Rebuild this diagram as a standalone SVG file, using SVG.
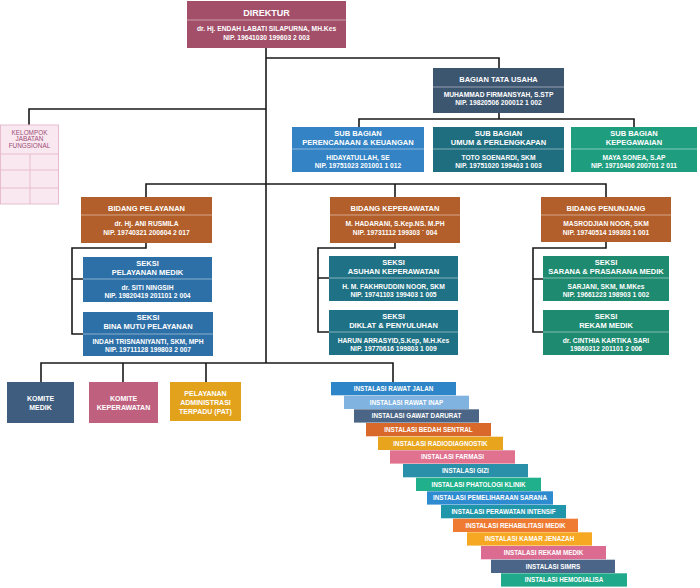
<svg xmlns="http://www.w3.org/2000/svg" width="700" height="588" viewBox="0 0 700 588">
<style>
text{font-family:"Liberation Sans",Arial,sans-serif;font-weight:bold;fill:#ffffff;text-anchor:middle}
.h9{font-size:9px}
.h{font-size:7.5px}
.n{font-size:6.7px}
.k{font-size:7px}
.i{font-size:6.3px}
.kf{font-size:6.4px;font-weight:normal;fill:#9a4d74}
.dv{stroke:#ffffff;stroke-opacity:0.45;stroke-width:1}
.ln{stroke:#1a1a1a;stroke-width:1.6;fill:none}
.kl{stroke:#e6bdd0;stroke-width:1;fill:none}
</style>
<rect width="700" height="588" fill="#ffffff"/>

<g id="connectors" class="ln">
<path d="M266 48V363"/>
<path d="M266 58H499V68"/>
<path d="M499 113V119M359 127V119H634V127"/>
<path d="M266 109H29V125"/>
<path d="M146 197V184H606V197M395 184V197"/>
<path d="M146 243V248H72V334H83M72 279H83"/>
<path d="M395 243V248H318V332H329M318 278H329"/>
<path d="M606 242V248H533V332H543M533 279H543"/>
<path d="M41 382V363H393V382M123 363V382M206 363V382"/>
</g>

<g id="direktur">
<rect x="187" y="1" width="159" height="47" fill="#a34f6a"/>
<line class="dv" x1="187" y1="20" x2="346" y2="20"/>
<text class="h9" x="266.5" y="16">DIREKTUR</text>
<text class="n" x="266.5" y="30.5">dr. Hj. ENDAH LABATI SILAPURNA, MH.Kes</text>
<text class="n" x="266.5" y="39.5">NIP. 19641030 199603 2 003</text>
</g>

<g id="bagian-tata-usaha">
<rect x="433" y="68" width="131" height="45" fill="#3d5670"/>
<line class="dv" x1="433" y1="87" x2="564" y2="87"/>
<text class="h" x="498.5" y="82">BAGIAN TATA USAHA</text>
<text class="n" x="498.5" y="96.5">MUHAMMAD FIRMANSYAH, S.STP</text>
<text class="n" x="498.5" y="104.5">NIP. 19820506 200012 1 002</text>
</g>

<g id="kelompok-jabatan-fungsional">
<rect x="0.5" y="125" width="58" height="79" fill="#fae8f1" stroke="#e6bdd0"/>
<path class="kl" d="M0.5 154H58.5M0.5 170H58.5M0.5 188H58.5M30 154V204"/>
<text class="kf" x="29.5" y="134.5">KELOMPOK</text>
<text class="kf" x="29.5" y="141">JABATAN</text>
<text class="kf" x="29.5" y="147.5">FUNGSIONAL</text>
</g>

<g id="sub-bagian-perencanaan">
<rect x="292" y="127" width="132" height="45" fill="#3383c5"/>
<line class="dv" x1="292" y1="149" x2="424" y2="149"/>
<text class="h" x="358" y="135.5">SUB BAGIAN</text>
<text class="h" x="358" y="144.5">PERENCANAAN &amp; KEUANGAN</text>
<text class="n" x="358" y="159.5">HIDAYATULLAH, SE</text>
<text class="n" x="358" y="167.5">NIP. 19751023 201001 1 012</text>
</g>

<g id="sub-bagian-umum">
<rect x="433" y="127" width="131" height="45" fill="#1f6e80"/>
<line class="dv" x1="433" y1="149" x2="564" y2="149"/>
<text class="h" x="498.5" y="135.5">SUB BAGIAN</text>
<text class="h" x="498.5" y="144.5">UMUM &amp; PERLENGKAPAN</text>
<text class="n" x="498.5" y="159.5">TOTO SOENARDI, SKM</text>
<text class="n" x="498.5" y="167.5">NIP. 19751020 199403 1 003</text>
</g>

<g id="sub-bagian-kepegawaian">
<rect x="571" y="127" width="126" height="45" fill="#1f9e7f"/>
<line class="dv" x1="571" y1="149" x2="697" y2="149"/>
<text class="h" x="634" y="135.5">SUB BAGIAN</text>
<text class="h" x="634" y="144.5">KEPEGAWAIAN</text>
<text class="n" x="634" y="159.5">MAYA SONEA, S.AP</text>
<text class="n" x="634" y="167.5">NIP. 19710406 200701 2 011</text>
</g>

<g id="bidang-pelayanan">
<rect x="81" y="197" width="131" height="46" fill="#b35f2b"/>
<line class="dv" x1="81" y1="215" x2="212" y2="215"/>
<text class="h" x="146.5" y="211">BIDANG PELAYANAN</text>
<text class="n" x="146.5" y="225.5">dr. Hj. ANI RUSMILA</text>
<text class="n" x="146.5" y="234.5">NIP. 19740321 200604 2 017</text>
</g>

<g id="bidang-keperawatan">
<rect x="330" y="197" width="130" height="46" fill="#b35f2b"/>
<line class="dv" x1="330" y1="215" x2="460" y2="215"/>
<text class="h" x="395" y="211">BIDANG KEPERAWATAN</text>
<text class="n" x="395" y="225.5">M. HADARANI, S.Kep.NS. M.PH</text>
<text class="n" x="395" y="234.5">NIP. 19731112 199303 ` 004</text>
</g>

<g id="bidang-penunjang">
<rect x="541" y="197" width="130" height="45" fill="#b35f2b"/>
<line class="dv" x1="541" y1="215" x2="671" y2="215"/>
<text class="h" x="606" y="211">BIDANG PENUNJANG</text>
<text class="n" x="606" y="225.5">MASRODJIAN NOOR, SKM</text>
<text class="n" x="606" y="234.5">NIP. 19740514 199303 1 001</text>
</g>

<g id="seksi-pelayanan-medik">
<rect x="83" y="257" width="129" height="45" fill="#2d70a7"/>
<line class="dv" x1="83" y1="279" x2="212" y2="279"/>
<text class="h" x="147.5" y="265.5">SEKSI</text>
<text class="h" x="147.5" y="274.5">PELAYANAN MEDIK</text>
<text class="n" x="147.5" y="289.5">dr. SITI NINGSIH</text>
<text class="n" x="147.5" y="297.5">NIP. 19820419 201101 2 004</text>
</g>

<g id="seksi-bina-mutu">
<rect x="83" y="312" width="130" height="44" fill="#2d70a7"/>
<line class="dv" x1="83" y1="334" x2="213" y2="334"/>
<text class="h" x="148" y="319.5">SEKSI</text>
<text class="h" x="148" y="329">BINA MUTU PELAYANAN</text>
<text class="n" x="148" y="344">INDAH TRISNANIYANTI, SKM, MPH</text>
<text class="n" x="148" y="352">NIP. 19711128 199803 2 007</text>
</g>

<g id="seksi-asuhan-keperawatan">
<rect x="329" y="256" width="129" height="45" fill="#1f7285"/>
<line class="dv" x1="329" y1="278" x2="458" y2="278"/>
<text class="h" x="393.5" y="264.5">SEKSI</text>
<text class="h" x="393.5" y="273.5">ASUHAN KEPERAWATAN</text>
<text class="n" x="393.5" y="288.5">H. M. FAKHRUDDIN NOOR, SKM</text>
<text class="n" x="393.5" y="296.5">NIP. 19741103 199403 1 005</text>
</g>

<g id="seksi-diklat">
<rect x="329" y="310" width="129" height="45" fill="#1f7285"/>
<line class="dv" x1="329" y1="332" x2="458" y2="332"/>
<text class="h" x="393.5" y="318.5">SEKSI</text>
<text class="h" x="393.5" y="327.5">DIKLAT &amp; PENYULUHAN</text>
<text class="n" x="393.5" y="342.5">HARUN ARRASYID,S.Kep, M.H.Kes</text>
<text class="n" x="393.5" y="350.5">NIP. 19770616 199803 1 009</text>
</g>

<g id="seksi-sarana">
<rect x="543" y="256" width="126" height="45" fill="#1e8a6f"/>
<line class="dv" x1="543" y1="278" x2="669" y2="278"/>
<text class="h" x="606" y="264.5">SEKSI</text>
<text class="h" x="606" y="273.5">SARANA &amp; PRASARANA MEDIK</text>
<text class="n" x="606" y="288.5">SARJANI, SKM, M.MKes</text>
<text class="n" x="606" y="296.5">NIP. 19661223 198903 1 002</text>
</g>

<g id="seksi-rekam-medik">
<rect x="543" y="310" width="126" height="45" fill="#1e8a6f"/>
<line class="dv" x1="543" y1="332" x2="669" y2="332"/>
<text class="h" x="606" y="318.5">SEKSI</text>
<text class="h" x="606" y="327.5">REKAM MEDIK</text>
<text class="n" x="606" y="342.5">dr. CINTHIA KARTIKA SARI</text>
<text class="n" x="606" y="350.5">19860312 201101 2 006</text>
</g>

<g id="komite-medik">
<rect x="7" y="382" width="67" height="41" fill="#3f5d7f"/>
<text class="k" x="40.5" y="400.5">KOMITE</text>
<text class="k" x="40.5" y="409.5">MEDIK</text>
</g>

<g id="komite-keperawatan">
<rect x="89" y="382" width="69" height="41" fill="#c0607f"/>
<text class="k" x="123.5" y="400.5">KOMITE</text>
<text class="k" x="123.5" y="409.5">KEPERAWATAN</text>
</g>

<g id="pelayanan-administrasi-terpadu">
<rect x="170" y="382" width="71" height="39" fill="#e3a21b"/>
<text class="k" x="205.5" y="395.5">PELAYANAN</text>
<text class="k" x="205.5" y="404.5">ADMINISTRASI</text>
<text class="k" x="205.5" y="413.5">TERPADU (PAT)</text>
</g>

<g id="instalasi-rawat-jalan"><rect x="331" y="382" width="125" height="13.3" fill="#2e86c8"/><text class="i" x="393.5" y="391">INSTALASI RAWAT JALAN</text></g>
<g id="instalasi-rawat-inap"><rect x="344" y="395.7" width="125" height="13.3" fill="#80b3e0"/><text class="i" x="406.5" y="404.7">INSTALASI RAWAT INAP</text></g>
<g id="instalasi-gawat-darurat"><rect x="354" y="409.3" width="125" height="13.3" fill="#4a6586"/><text class="i" x="416.5" y="418.3">INSTALASI GAWAT DARURAT</text></g>
<g id="instalasi-bedah-sentral"><rect x="366" y="423" width="125" height="13.3" fill="#d9692b"/><text class="i" x="428.5" y="432">INSTALASI BEDAH SENTRAL</text></g>
<g id="instalasi-radiodiagnostik"><rect x="378" y="436.7" width="125" height="13.3" fill="#e8a41d"/><text class="i" x="440.5" y="445.7">INSTALASI RADIODIAGNOSTIK</text></g>
<g id="instalasi-farmasi"><rect x="390" y="450.3" width="125" height="13.3" fill="#e0718f"/><text class="i" x="452.5" y="459.3">INSTALASI FARMASI</text></g>
<g id="instalasi-gizi"><rect x="403" y="464" width="125" height="13.3" fill="#2a8fa8"/><text class="i" x="465.5" y="473">INSTALASI GIZI</text></g>
<g id="instalasi-phatologi-klinik"><rect x="416" y="477.7" width="125" height="13.3" fill="#20b08b"/><text class="i" x="478.5" y="486.7">INSTALASI PHATOLOGI KLINIK</text></g>
<g id="instalasi-pemeliharaan-sarana"><rect x="427" y="491.3" width="126" height="13.3" fill="#2f8bd0"/><text class="i" x="490" y="500.3">INSTALASI PEMELIHARAAN SARANA</text></g>
<g id="instalasi-perawatan-intensif"><rect x="441" y="505" width="125" height="13.3" fill="#2096ab"/><text class="i" x="503.5" y="514">INSTALASI PERAWATAN INTENSIF</text></g>
<g id="instalasi-rehabilitasi-medik"><rect x="453" y="518.7" width="125" height="13.3" fill="#ef7a31"/><text class="i" x="515.5" y="527.7">INSTALASI REHABILITASI MEDIK</text></g>
<g id="instalasi-kamar-jenazah"><rect x="467" y="532.3" width="125" height="13.3" fill="#f6a822"/><text class="i" x="529.5" y="541.3">INSTALASI KAMAR JENAZAH</text></g>
<g id="instalasi-rekam-medik"><rect x="481" y="546" width="125" height="13.3" fill="#dc6b91"/><text class="i" x="543.5" y="555">INSTALASI REKAM MEDIK</text></g>
<g id="instalasi-simrs"><rect x="491" y="559.7" width="124" height="13.3" fill="#4b6589"/><text class="i" x="553" y="568.7">INSTALASI SIMRS</text></g>
<g id="instalasi-hemodialisa"><rect x="501" y="573.3" width="126" height="13.3" fill="#20a98b"/><text class="i" x="564" y="582.3">INSTALASI HEMODIALISA</text></g>
</svg>
